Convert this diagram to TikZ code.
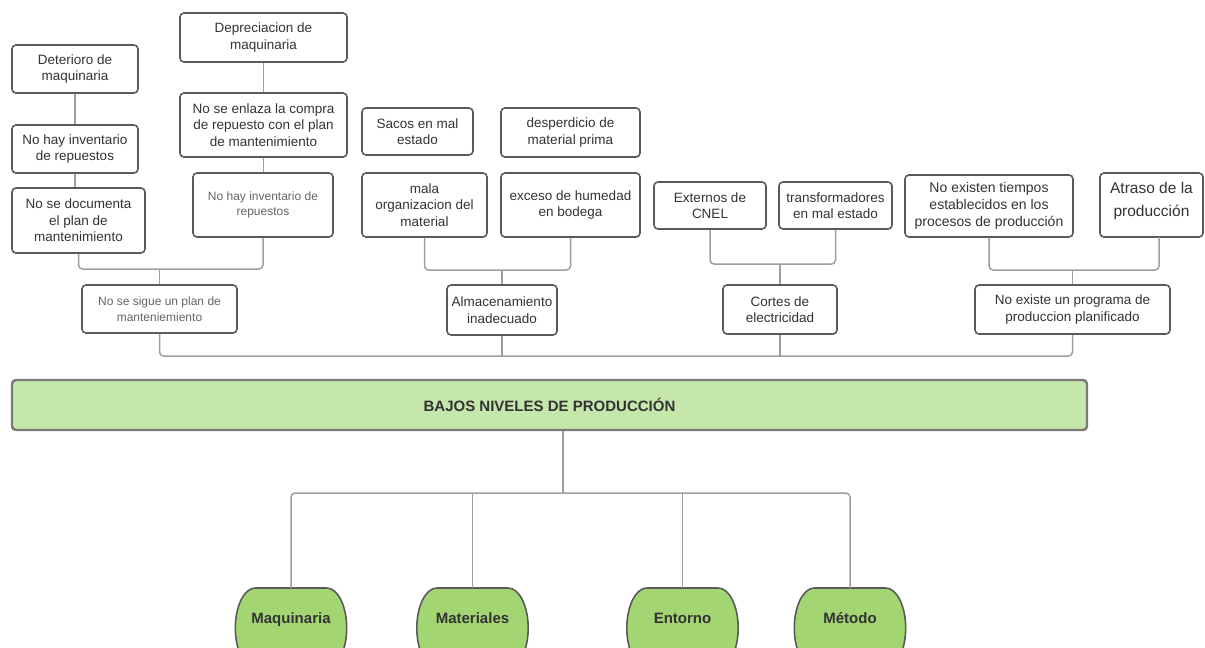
\documentclass[tikz,border=0pt]{standalone}
\usepackage{fontspec}
\setmainfont{Liberation Sans}
\usetikzlibrary{backgrounds}
\definecolor{bordc}{HTML}{5A5A5A}
\definecolor{txtc}{HTML}{333333}
\definecolor{litec}{HTML}{666666}
\definecolor{linkc}{HTML}{9E9E9E}
\definecolor{bajfill}{HTML}{C6E7AC}
\definecolor{bajdraw}{HTML}{7A7A7A}
\definecolor{ovalfill}{HTML}{A3D672}
\begin{document}
\begin{tikzpicture}[x=1pt,y=-1pt,
  box/.style={draw=bordc, line width=1.6pt, rounded corners=4pt, fill=white,
    text=txtc, align=center, inner sep=0pt,
    font=\fontsize{13.5}{16.5}\selectfont},
  litebox/.style={box, text=litec, font=\fontsize{12}{15.5}\selectfont},
  link/.style={draw=linkc, line width=1.5pt, rounded corners=4pt},
  headbox/.style={draw=bajdraw, line width=2.4pt, rounded corners=4pt, fill=bajfill,
    text=txtc, inner sep=0pt, font=\fontsize{15}{18}\selectfont\bfseries},
  ovaltext/.style={inner sep=0pt, anchor=north, minimum width=111pt,
    text=txtc, text height=35pt, text depth=45pt,
    font=\fontsize{15}{17}\selectfont\bfseries},
  ovalshape/.style={draw=bordc, line width=1.6pt, fill=ovalfill}]
\useasboundingbox (0,0) rectangle (1205,648);

% maquinaria branch
\node[box, minimum width=126pt, minimum height=48pt] (det) at (75,69) {Deterioro de\\maquinaria};
\node[box, minimum width=126pt, minimum height=48pt] (inv1) at (75,149) {No hay inventario\\de repuestos};
\node[box, minimum width=133pt, minimum height=65pt] (doc) at (78.5,220.5) {No se documenta\\el plan de\\mantenimiento};
\node[box, minimum width=167pt, minimum height=49pt] (dep) at (263.5,37.5) {Depreciacion de\\maquinaria};
\node[box, minimum width=167pt, minimum height=64pt] (enl) at (263.5,125) {No se enlaza la compra\\de repuesto con el plan\\de mantenimiento};
\node[litebox, minimum width=140pt, minimum height=64pt] (inv2) at (263,205) {No hay inventario de\\repuestos};
\node[litebox, minimum width=155pt, minimum height=48pt] (sig) at (159.5,309) {No se sigue un plan de\\manteniemiento};

% materiales branch
\node[box, minimum width=111pt, minimum height=47pt] (sac) at (417.5,131.5) {Sacos en mal\\estado};
\node[box, minimum width=139pt, minimum height=49pt] (des) at (570.5,132.5) {desperdicio de\\material prima};
\node[box, minimum width=125pt, minimum height=64pt] (mal) at (424.5,205) {mala\\organizacion del\\material};
\node[box, minimum width=139pt, minimum height=64pt] (exc) at (570.5,205) {exceso de humedad\\en bodega};
\node[box, minimum width=110pt, minimum height=50pt] (alm) at (502,310) {Almacenamiento\\inadecuado};

% entorno branch
\node[box, minimum width=112pt, minimum height=47pt] (ext) at (710,205.5) {Externos de\\CNEL};
\node[box, minimum width=113pt, minimum height=47pt] (tra) at (835.5,205.5) {transformadores\\en mal estado};
\node[box, minimum width=114pt, minimum height=49pt] (cor) at (780,309.5) {Cortes de\\electricidad};

% metodo branch
\node[box, minimum width=168pt, minimum height=62pt, font=\fontsize{14}{17}\selectfont] (tie) at (989,206) {No existen tiempos\\establecidos en los\\procesos de producción};
\node[box, minimum width=103pt, minimum height=64pt, font=\fontsize{15.5}{19}\selectfont] (atr) at (1151.5,205)
  {\raisebox{0pt}[0pt][0pt]{\begin{tabular}{@{}c@{}}Atraso de la\\[4pt]producción\end{tabular}}};
\node[box, minimum width=195pt, minimum height=49pt] (pro) at (1072.5,309.5) {No existe un programa de\\produccion planificado};

% central problem and categories
\node[headbox, minimum width=1075pt, minimum height=50pt] (baj) at (549.5,405) {BAJOS NIVELES DE PRODUCCIÓN};
\node[ovaltext] (maq) at (291,588) {Maquinaria};
\node[ovaltext] (mat) at (472.5,588) {Materiales};
\node[ovaltext] (ent) at (682.5,588) {Entorno};
\node[ovaltext] (met) at (850,588) {Método};

% barrel outlines behind the category labels
\begin{scope}[on background layer]
\foreach \n in {maq,mat,ent,met}{
  \draw[ovalshape]
    ([yshift=-40pt]\n.north west)
      .. controls +(0,22pt) and +(-11pt,0) .. ([xshift=20pt]\n.north west)
      -- ([xshift=-20pt]\n.north east)
      .. controls +(11pt,0) and +(0,22pt) .. ([yshift=-40pt]\n.north east)
      .. controls +(0,-22pt) and +(11pt,0) .. ([xshift=-20pt]\n.south east)
      -- ([xshift=20pt]\n.south west)
      .. controls +(-11pt,0) and +(0,-22pt) .. cycle;
}
\end{scope}

% junction points
\coordinate (j1) at (159.5,269);
\coordinate (j2) at (502,270);
\coordinate (j3) at (780,264);
\coordinate (j4) at (1072.5,270);
\coordinate (j5) at (0,356);
\coordinate (j6) at (563,493);
\coordinate (atrout) at (1159,237);

% connectors of the upper tree
\draw[link] (det) -- (inv1);
\draw[link] (inv1.south) -- (inv1.south |- doc.north);
\draw[link] (dep) -- (enl);
\draw[link] (enl.south) -- (enl.south |- inv2.north);
\draw[link] (doc.south) |- (j1) -| (inv2.south);
\draw[link] (j1) -- (sig.north);
\draw[link] (mal.south) |- (j2) -| (exc.south);
\draw[link] (j2) -- (alm.north);
\draw[link] (ext.south) |- (j3) -| (tra.south);
\draw[link] (j3) -- (cor.north);
\draw[link] (tie.south) |- (j4) -| (atrout);
\draw[link] (j4) -- (pro.north);
\draw[link] (sig.south) |- (pro.south |- j5) -- (pro.south);
\draw[link] (alm.south) -- (alm.south |- j5);
\draw[link] (cor.south) -- (cor.south |- j5);

% connectors of the lower tree
\draw[link] (baj.south -| j6) -- (j6);
\draw[link] (maq.north) |- (met.north |- j6) -- (met.north);
\draw[link] (mat.north) -- (mat.north |- j6);
\draw[link] (ent.north) -- (ent.north |- j6);
\end{tikzpicture}
\end{document}
